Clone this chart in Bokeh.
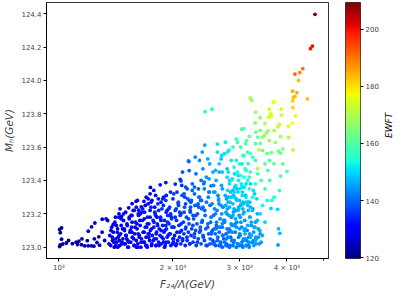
import math
import numpy as np
from bokeh.plotting import figure
from bokeh.models import (ColumnDataSource, FixedTicker, PrintfTickFormatter,
                          LinearColorMapper)
from bokeh.transform import transform
from bokeh.layouts import row
from bokeh.core.properties import value
from bokeh.embed import file_html
from bokeh.resources import INLINE

# ---------------- data ----------------
# far left, navy
f24_1 = [1004, 1016, 1008, 1016, 1008, 1004, 1024, 1046, 1060, 1085,
         1110, 1129, 1120, 1147, 1150, 1170, 1188, 1195, 1218, 1237,
         1240, 1195, 1219, 1244, 1260, 1274, 1280, 1300, 1301, 1320]
mh_1 = [123.106, 123.116, 123.087, 123.048, 123.013, 123.004, 123.019, 123.025, 123.040, 123.021,
        123.030, 123.036, 123.016, 123.015, 123.050, 123.008, 123.039, 123.008, 123.008, 123.006,
        123.050, 123.096, 123.122, 123.145, 123.028, 123.062, 123.012, 123.090, 123.168, 123.040]
ewft_1 = [122, 122, 121, 122, 121, 121, 122, 122, 122, 123,
          123, 123, 123, 123, 123, 123, 124, 124, 124, 124,
          124, 124, 124, 125, 125, 125, 125, 125, 125, 125]

# upper envelope, x 1300-2100
f24_2 = [1332, 1345, 1390, 1410, 1462, 1440, 1500, 1528, 1560, 1598,
         1611, 1624, 1650, 1677, 1690, 1700, 1740, 1744, 1760, 1800,
         1780, 1830, 1851, 1890, 1915, 1920, 1970, 2028, 2090, 2110,
         1480, 1550, 1580, 1640, 1720]
mh_2 = [123.170, 123.160, 123.135, 123.180, 123.184, 123.200, 123.210, 123.236, 123.261, 123.275,
        123.280, 123.222, 123.242, 123.275, 123.250, 123.300, 123.320, 123.358, 123.280, 123.310,
        123.340, 123.290, 123.374, 123.300, 123.387, 123.310, 123.330, 123.378, 123.407, 123.370,
        123.160, 123.190, 123.220, 123.200, 123.260]
ewft_2 = [126, 126, 126, 127, 127, 127, 128, 128, 129, 129,
          129, 129, 130, 130, 130, 130, 131, 131, 131, 132,
          131, 132, 132, 133, 133, 133, 134, 134, 135, 135,
          127, 128, 128, 129, 130]

# dense band, x 1350-2000
f24_3 = [1355, 1362, 1370, 1378, 1385, 1392, 1400, 1405, 1412, 1420,
         1428, 1433, 1440, 1447, 1455, 1460, 1468, 1475, 1482, 1490,
         1497, 1505, 1512, 1518, 1525, 1533, 1540, 1547, 1555, 1562,
         1570, 1578, 1585, 1592, 1600, 1608, 1615, 1622, 1630, 1638,
         1645, 1652, 1660, 1668, 1675, 1683, 1690, 1698, 1705, 1713,
         1720, 1728, 1735, 1743, 1750, 1758, 1765, 1773, 1780, 1788,
         1795, 1803, 1810, 1818, 1825, 1833, 1840, 1848, 1855, 1863,
         1870, 1878, 1885, 1893, 1900, 1908, 1915, 1923, 1930, 1938,
         1945, 1953, 1960, 1968, 1975, 1983, 1990, 1998]
mh_3 = [123.02, 123.07, 123.01, 123.12, 123.04, 123.09, 123.00, 123.15, 123.05, 123.03,
        123.11, 123.06, 123.18, 123.01, 123.08, 123.13, 123.03, 123.05, 123.20, 123.10,
        123.02, 123.07, 123.14, 123.04, 123.00, 123.17, 123.09, 123.03, 123.12, 123.06,
        123.22, 123.01, 123.08, 123.15, 123.04, 123.11, 123.02, 123.19, 123.07, 123.13,
        123.00, 123.05, 123.16, 123.09, 123.03, 123.21, 123.12, 123.06, 123.01, 123.18,
        123.08, 123.14, 123.04, 123.10, 123.24, 123.02, 123.07, 123.16, 123.12, 123.05,
        123.20, 123.01, 123.09, 123.14, 123.26, 123.03, 123.11, 123.07, 123.18, 123.02,
        123.23, 123.13, 123.05, 123.09, 123.16, 123.01, 123.28, 123.11, 123.06, 123.19,
        123.03, 123.14, 123.24, 123.08, 123.01, 123.17, 123.12, 123.05]
ewft_3 = [127, 128, 127, 129, 128, 128, 127, 130, 128, 128,
          129, 128, 130, 128, 129, 130, 128, 129, 131, 130,
          129, 129, 131, 129, 129, 131, 130, 129, 131, 130,
          132, 129, 130, 132, 130, 131, 130, 132, 131, 132,
          130, 131, 132, 131, 130, 133, 132, 131, 130, 133,
          132, 133, 131, 132, 134, 131, 132, 133, 133, 132,
          134, 131, 133, 134, 135, 132, 133, 132, 134, 132,
          135, 134, 133, 133, 134, 132, 136, 134, 133, 135,
          133, 135, 136, 134, 133, 136, 135, 134]

f24_3b = [1372, 1395, 1418, 1441, 1464, 1487, 1510, 1534, 1558, 1582,
          1606, 1630, 1655, 1680, 1705, 1730, 1756, 1782, 1808, 1834,
          1861, 1888, 1915, 1942, 1970, 1998, 1430, 1520, 1615, 1710,
          1805, 1900]
mh_3b = [123.10, 123.03, 123.13, 123.07, 123.02, 123.11, 123.05, 123.18, 123.09, 123.01,
         123.14, 123.06, 123.21, 123.03, 123.12, 123.08, 123.01, 123.15, 123.05, 123.22,
         123.10, 123.03, 123.13, 123.07, 123.19, 123.02, 123.00, 123.00, 123.00, 123.00,
         123.01, 123.00]
ewft_3b = [128, 127, 129, 128, 128, 129, 129, 131, 130, 129,
           131, 130, 132, 130, 132, 131, 131, 133, 132, 134,
           133, 132, 134, 133, 135, 133, 127, 128, 129, 130,
           131, 132]

# band x 2000-2500
f24_4 = [2005, 2012, 2020, 2028, 2035, 2043, 2050, 2058, 2066, 2074,
         2082, 2090, 2098, 2106, 2114, 2122, 2130, 2138, 2146, 2155,
         2163, 2171, 2180, 2188, 2197, 2205, 2214, 2223, 2232, 2241,
         2250, 2259, 2268, 2277, 2286, 2295, 2304, 2314, 2323, 2333,
         2342, 2352, 2362, 2372, 2382, 2392, 2402, 2412, 2422, 2432,
         2442, 2452, 2463, 2473, 2484, 2494]
mh_4 = [123.03, 123.12, 123.07, 123.22, 123.01, 123.16, 123.09, 123.04, 123.27, 123.13,
        123.06, 123.19, 123.02, 123.10, 123.31, 123.05, 123.15, 123.08, 123.24, 123.01,
        123.12, 123.18, 123.04, 123.29, 123.09, 123.14, 123.02, 123.21, 123.07, 123.11,
        123.34, 123.03, 123.17, 123.06, 123.25, 123.10, 123.01, 123.14, 123.20, 123.05,
        123.30, 123.09, 123.12, 123.02, 123.23, 123.16, 123.07, 123.38, 123.04, 123.19,
        123.11, 123.27, 123.01, 123.14, 123.08, 123.33]
ewft_4 = [132, 134, 133, 136, 132, 135, 133, 133, 137, 135,
          134, 136, 134, 135, 138, 134, 136, 135, 138, 134,
          136, 137, 135, 139, 136, 137, 135, 138, 136, 137,
          140, 136, 138, 137, 139, 138, 136, 138, 139, 137,
          141, 138, 139, 137, 140, 139, 138, 142, 138, 140,
          139, 141, 138, 140, 139, 142]

f24_4b = [2207, 2100, 2335, 2520, 2204, 2198, 2428, 2472, 2374, 2300,
          2150, 2250, 2400, 2450, 2350, 2280, 2480, 2420, 2550, 2500,
          2380, 2320, 2230, 2180, 2050, 2120]
mh_4b = [123.459, 123.397, 123.349, 123.368, 123.513, 123.517, 123.612, 123.529, 123.400, 123.440,
         123.300, 123.380, 123.470, 123.420, 123.520, 123.320, 123.300, 123.350, 123.450, 123.500,
         123.280, 123.250, 123.270, 123.350, 123.330, 123.450]
ewft_4b = [139, 136, 140, 143, 140, 141, 145, 146, 141, 141,
           137, 139, 143, 144, 144, 139, 142, 142, 146, 146,
           140, 139, 138, 137, 135, 138]

# dense band x 2500-3400
f24_5 = [2505, 2515, 2526, 2537, 2548, 2559, 2570, 2581, 2592, 2604,
         2615, 2627, 2639, 2651, 2663, 2675, 2687, 2699, 2711, 2724,
         2736, 2749, 2762, 2775, 2788, 2801, 2814, 2827, 2840, 2853,
         2867, 2880, 2894, 2908, 2922, 2936, 2950, 2964, 2978, 2992,
         3006, 3021, 3035, 3050, 3065, 3080, 3095, 3110, 3125, 3140,
         3156, 3172, 3188, 3204, 3220, 3236, 3252, 3268, 3285, 3302,
         3320, 3340, 3360, 3380, 3400]
mh_5 = [123.02, 123.15, 123.08, 123.26, 123.04, 123.19, 123.11, 123.33, 123.01, 123.13,
        123.22, 123.06, 123.29, 123.09, 123.17, 123.03, 123.37, 123.12, 123.24, 123.05,
        123.15, 123.31, 123.08, 123.20, 123.01, 123.27, 123.11, 123.40, 123.06, 123.18,
        123.13, 123.34, 123.03, 123.22, 123.09, 123.29, 123.15, 123.02, 123.43, 123.19,
        123.07, 123.25, 123.12, 123.36, 123.04, 123.21, 123.16, 123.31, 123.01, 123.10,
        123.27, 123.06, 123.18, 123.38, 123.13, 123.03, 123.23, 123.09, 123.32, 123.15,
        123.05, 123.20, 123.11, 123.02, 123.08]
ewft_5 = [138, 140, 139, 142, 138, 141, 140, 144, 138, 140,
          142, 139, 144, 140, 142, 139, 146, 141, 143, 139,
          142, 146, 140, 143, 139, 145, 141, 148, 140, 143,
          142, 147, 140, 144, 142, 146, 143, 140, 149, 144,
          141, 145, 143, 148, 141, 145, 144, 147, 141, 143,
          147, 142, 145, 150, 144, 142, 146, 144, 149, 145,
          143, 147, 145, 143, 144]

f24_5b = [2530, 2560, 2590, 2620, 2650, 2680, 2710, 2740, 2770, 2800,
          2830, 2860, 2890, 2920, 2950, 2980, 3010, 3040, 3070, 3100,
          3130, 3160, 3190, 3220, 3250, 3280, 3310, 2700, 2760, 2820,
          2880, 2940, 3000, 3060, 3120, 3180, 2650, 2780, 2910, 3040]
mh_5b = [123.09, 123.03, 123.20, 123.12, 123.01, 123.25, 123.07, 123.16, 123.02, 123.30,
         123.10, 123.04, 123.21, 123.14, 123.35, 123.06, 123.18, 123.01, 123.26, 123.11,
         123.04, 123.22, 123.08, 123.15, 123.03, 123.12, 123.06, 123.00, 123.01, 123.00,
         123.01, 123.00, 123.01, 123.00, 123.01, 123.00, 123.45, 123.47, 123.44, 123.50]
ewft_5b = [140, 138, 142, 141, 138, 144, 140, 143, 139, 146,
           142, 140, 145, 143, 148, 142, 145, 141, 147, 144,
           142, 147, 144, 146, 143, 145, 144, 139, 140, 140,
           141, 141, 142, 142, 143, 143, 146, 148, 149, 151]

# cyan middle region
f24_6 = [2850, 2900, 2950, 3000, 3050, 2880, 2930, 2980, 3030, 3080,
         2820, 2780, 2700, 2650, 2600, 2560, 2620, 2680, 2734, 2790,
         2810, 2751, 2620, 2937, 2960, 3060, 3130, 3110, 3200, 3250,
         3300, 3075, 3040, 3184, 2432, 2538, 3000, 2900, 2850, 3100,
         3150, 3200, 3180, 3250, 3300, 3350, 3120, 2960, 3020, 2880,
         3160]
mh_6 = [123.30, 123.33, 123.28, 123.35, 123.31, 123.26, 123.37, 123.40, 123.26, 123.42,
        123.38, 123.42, 123.45, 123.50, 123.40, 123.33, 123.57, 123.529, 123.56, 123.571,
        123.581, 123.629, 123.618, 123.648, 123.629, 123.548, 123.639, 123.62, 123.561, 123.54,
        123.52, 123.711, 123.707, 123.664, 123.813, 123.827, 123.50, 123.48, 123.52, 123.47,
        123.40, 123.45, 123.35, 123.30, 123.38, 123.44, 123.30, 123.45, 123.60, 123.60,
        123.50]
ewft_6 = [149, 150, 149, 151, 150, 148, 151, 152, 149, 154,
          151, 150, 149, 149, 146, 145, 151, 149, 151, 152,
          152, 152, 151, 157, 157, 154, 160, 160, 159, 156,
          157, 158, 158, 162, 155, 155, 154, 153, 152, 155,
          155, 157, 153, 153, 156, 158, 151, 153, 157, 155,
          157]

# green / yellow upper right, plus right-edge stragglers
f24_7 = [3200, 3230, 3307, 3400, 3298, 3787, 3820, 4038, 3570, 3530,
         3482, 3397, 3313, 3400, 3592, 3724, 3850, 3903, 4150, 3800,
         3850, 3545, 3640, 3370, 3350, 3680, 3700, 3860, 3870, 3592,
         3612, 3580, 3640, 3625, 4150, 4215, 4038, 4130, 3500, 3450,
         3700, 3600, 3700, 3500, 3450, 3900, 4000, 3850, 3820, 3780,
         3630, 3600, 3500, 3700, 3450, 3550, 3400, 3500, 3800, 3830,
         3790, 3650, 3560, 3420, 3300, 3350]
mh_7 = [123.895, 123.881, 123.81, 123.776, 123.745, 123.722, 123.736, 123.658, 123.697, 123.685,
        123.668, 123.70, 123.69, 123.622, 123.639, 123.628, 123.662, 123.589, 123.583, 123.575,
        123.564, 123.561, 123.567, 123.584, 123.47, 123.869, 123.872, 123.827, 123.792, 123.827,
        123.792, 123.78, 123.785, 123.80, 123.837, 123.786, 123.724, 123.744, 123.74, 123.66,
        123.70, 123.52, 123.50, 123.50, 123.58, 123.50, 123.455, 123.426, 123.339, 123.227,
        123.232, 123.40, 123.35, 123.30, 123.25, 123.28, 123.20, 123.15, 123.11, 123.083,
        123.013, 123.28, 123.46, 123.40, 123.62, 123.66]
ewft_7 = [168, 168, 168, 167, 166, 172, 172, 170, 168, 167,
          166, 165, 162, 164, 166, 167, 168, 166, 170, 163,
          163, 162, 163, 172, 170, 176, 177, 175, 173, 175,
          173, 174, 174, 175, 181, 178, 176, 177, 169, 166,
          169, 161, 162, 161, 162, 160, 160, 158, 155, 150,
          150, 157, 156, 154, 153, 154, 150, 150, 148, 148,
          145, 154, 159, 158, 160, 163]

# orange / red top tail
f24_8 = [4745, 4670, 4615, 4405, 4325, 4200, 4293, 4140, 4250, 4160, 4200, 4140, 4530]
mh_8 = [124.396, 124.206, 124.19, 124.07, 124.047, 124.038, 124.0, 123.935, 123.927,
        123.898, 123.904, 123.877, 123.889]
ewft_8 = [208, 200, 199, 190, 188, 192, 183, 185, 185, 183, 184, 182, 183]

# extra density, band x 1380-2480
f24_9 = [1383, 1398, 1413, 1426, 1444, 1458, 1472, 1486, 1501, 1515,
         1530, 1544, 1559, 1574, 1589, 1603, 1619, 1635, 1648, 1664,
         1679, 1695, 1711, 1726, 1741, 1757, 1774, 1791, 1806, 1822,
         1838, 1855, 1871, 1887, 1904, 1921, 1938, 1956, 1973, 1991,
         2009, 2027, 2046, 2064, 2083, 2101, 2120, 2140, 2159, 2178,
         2198, 2218, 2238, 2258, 2279, 2299, 2320, 2341, 2362, 2384,
         2405, 2427, 2449, 2471, 1450, 1600, 1750, 1880, 2010, 2160]
mh_9 = [123.06, 123.14, 123.01, 123.09, 123.04, 123.17, 123.11, 123.02, 123.07, 123.13,
        123.03, 123.10, 123.19, 123.05, 123.12, 123.00, 123.08, 123.16, 123.03, 123.23,
        123.09, 123.01, 123.14, 123.06, 123.18, 123.11, 123.04, 123.21, 123.08, 123.13,
        123.01, 123.17, 123.06, 123.25, 123.10, 123.03, 123.15, 123.08, 123.20, 123.12,
        123.05, 123.18, 123.02, 123.26, 123.09, 123.14, 123.04, 123.21, 123.11, 123.06,
        123.17, 123.02, 123.28, 123.13, 123.08, 123.19, 123.03, 123.24, 123.10, 123.15,
        123.06, 123.22, 123.01, 123.12, 123.23, 123.24, 123.27, 123.29, 123.32, 123.36]
ewft_9 = [128, 129, 127, 128, 128, 130, 129, 128, 129, 130,
          129, 130, 131, 129, 130, 129, 130, 131, 130, 133,
          131, 130, 132, 131, 133, 132, 131, 134, 132, 133,
          132, 134, 133, 135, 133, 132, 134, 133, 135, 134,
          133, 135, 133, 137, 134, 135, 134, 137, 136, 135,
          137, 135, 139, 137, 136, 138, 136, 139, 137, 138,
          137, 139, 137, 139, 130, 132, 133, 134, 136, 138]

# extra density, band x 2500-3450
f24_10 = [2508, 2521, 2543, 2556, 2575, 2588, 2607, 2622, 2641, 2657,
          2672, 2690, 2706, 2722, 2741, 2757, 2777, 2793, 2812, 2830,
          2849, 2866, 2886, 2903, 2925, 2944, 2962, 2984, 3002, 3023,
          3042, 3066, 3085, 3108, 3128, 3150, 3174, 3196, 3219, 3242,
          3266, 3291, 3315, 3340, 3365, 3392, 3420, 3445, 2600, 2700,
          2800, 2900, 3000, 3100, 3200, 3300, 2570, 2670, 2770, 2870,
          2970, 3070, 3170, 3270]
mh_10 = [123.05, 123.18, 123.10, 123.02, 123.23, 123.08, 123.15, 123.04, 123.28, 123.12,
         123.01, 123.20, 123.07, 123.16, 123.03, 123.25, 123.11, 123.06, 123.19, 123.01,
         123.14, 123.09, 123.31, 123.04, 123.17, 123.12, 123.02, 123.23, 123.08, 123.15,
         123.03, 123.20, 123.10, 123.05, 123.27, 123.13, 123.01, 123.18, 123.07, 123.22,
         123.04, 123.12, 123.02, 123.16, 123.06, 123.10, 123.03, 123.07, 123.11, 123.14,
         123.09, 123.13, 123.11, 123.08, 123.06, 123.04, 123.03, 123.02, 123.05, 123.04,
         123.02, 123.05, 123.03, 123.01]
ewft_10 = [139, 142, 140, 139, 143, 140, 142, 140, 145, 142,
           140, 144, 141, 143, 141, 146, 143, 142, 145, 141,
           144, 143, 148, 142, 145, 144, 142, 147, 143, 145,
           143, 147, 145, 144, 149, 146, 143, 147, 145, 148,
           144, 146, 144, 147, 145, 146, 145, 146, 142, 143,
           143, 144, 145, 146, 146, 146, 140, 141, 142, 142,
           143, 144, 144, 145]

# extra density, middle band y 123.2-123.6
f24_11 = [1720, 1790, 1860, 1930, 2000, 2070, 2140, 2210, 2280, 2350,
          2420, 2490, 2560, 2630, 2700, 2770, 2840, 2910, 2980, 3050,
          3120, 3190, 3260, 3330, 1815, 1950, 2085, 2225, 2365, 2505,
          2645, 2785, 2925, 3065, 3205, 2290, 2390, 2490, 2590, 2690]
mh_11 = [123.29, 123.24, 123.27, 123.22, 123.29, 123.25, 123.32, 123.28, 123.36, 123.30,
         123.39, 123.33, 123.37, 123.31, 123.35, 123.29, 123.33, 123.36, 123.24, 123.33,
         123.38, 123.27, 123.34, 123.29, 123.18, 123.23, 123.21, 123.24, 123.28, 123.25,
         123.26, 123.23, 123.22, 123.27, 123.24, 123.54, 123.57, 123.41, 123.46, 123.55]
ewft_11 = [131, 131, 133, 133, 135, 136, 138, 138, 140, 139,
           142, 141, 143, 143, 145, 145, 148, 149, 146, 149,
           151, 148, 151, 150, 131, 134, 136, 138, 140, 141,
           143, 145, 146, 148, 148, 143, 145, 144, 147, 150]

# extra density, cyan core and blue mid band
f24_12 = [2760, 2790, 2820, 2850, 2880, 2910, 2940, 2970, 3000, 3030,
          3060, 3090, 3120, 3150, 3180, 2800, 2870, 2940, 3010, 3080,
          3150, 2830, 2900, 2970, 3040, 1560, 1620, 1680, 1740, 1800,
          1860, 1920, 1980, 2040, 2100, 2160, 2220, 2260, 2330, 2400]
mh_12 = [123.21, 123.34, 123.24, 123.40, 123.19, 123.30, 123.44, 123.22, 123.28, 123.38,
         123.23, 123.36, 123.46, 123.25, 123.42, 123.45, 123.41, 123.52, 123.43, 123.55,
         123.57, 123.27, 123.23, 123.33, 123.37, 123.15, 123.20, 123.17, 123.22, 123.19,
         123.16, 123.21, 123.18, 123.23, 123.20, 123.26, 123.22, 123.19, 123.26, 123.24]
ewft_12 = [146, 150, 147, 152, 146, 149, 153, 147, 148, 152,
           147, 151, 154, 148, 154, 151, 151, 153, 153, 156,
           157, 148, 147, 150, 152, 130, 131, 131, 132, 132,
           133, 134, 134, 135, 136, 137, 137, 137, 139, 140]

# ticks
xtick_vals = [1000, 2000, 3000, 4000]
xtick_labels = ["10³", "2 × 10³", "3 × 10³", "4 × 10³"]
xminor_vals = [5000]
ytick_vals = [123.0, 123.2, 123.4, 123.6, 123.8, 124.0, 124.2, 124.4]
cbar_ticks = [120, 140, 160, 180, 200]
ewft_low, ewft_high = 119.7, 209.3

# ---------------- assemble ----------------
groups = [(f24_1, mh_1, ewft_1), (f24_2, mh_2, ewft_2), (f24_3, mh_3, ewft_3),
          (f24_3b, mh_3b, ewft_3b), (f24_4, mh_4, ewft_4), (f24_4b, mh_4b, ewft_4b),
          (f24_5, mh_5, ewft_5), (f24_5b, mh_5b, ewft_5b), (f24_6, mh_6, ewft_6),
          (f24_7, mh_7, ewft_7), (f24_8, mh_8, ewft_8), (f24_9, mh_9, ewft_9),
          (f24_10, mh_10, ewft_10), (f24_11, mh_11, ewft_11), (f24_12, mh_12, ewft_12)]
xs, ys, cs = [], [], []
for gx, gy, gc in groups:
    n = min(len(gx), len(gy), len(gc))
    xs += gx[:n]; ys += gy[:n]; cs += gc[:n]
order = np.argsort(cs, kind="stable")
src = ColumnDataSource(dict(f24=np.array(xs)[order], mh=np.array(ys)[order],
                            ewft=np.array(cs)[order]))

# jet palette (matplotlib segment data)
def _ch(pts, t):
    return np.interp(t, [p[0] for p in pts], [p[1] for p in pts])
t = np.linspace(0, 1, 256)
r = _ch([(0, 0), (0.35, 0), (0.66, 1), (0.89, 1), (1, 0.5)], t)
g = _ch([(0, 0), (0.125, 0), (0.375, 1), (0.64, 1), (0.91, 0), (1, 0)], t)
b = _ch([(0, 0.5), (0.11, 1), (0.34, 1), (0.65, 0), (1, 0)], t)
jet = ["#%02x%02x%02x" % (int(round(a * 255)), int(round(c * 255)), int(round(d * 255)))
       for a, c, d in zip(r, g, b)]
mapper = LinearColorMapper(palette=jet, low=ewft_low, high=ewft_high)

FONT = "DejaVu Sans"
TICK_FS = "7px"
FRAME_H = 256

# ---------------- main plot ----------------
p = figure(frame_width=282, frame_height=FRAME_H, x_axis_type="log",
           x_range=(927, 5150), y_range=(122.932, 124.467),
           output_backend="svg", toolbar_location=None,
           min_border_left=38, min_border_right=1, min_border_top=2, min_border_bottom=0)
p.scatter("f24", "mh", source=src, size=3.8, marker="circle",
          fill_color=transform("ewft", mapper), line_color=None)
p.grid.visible = False
p.outline_line_color = "black"
p.outline_line_alpha = 0.8
p.background_fill_color = "white"
p.border_fill_color = "white"

p.xaxis.ticker = FixedTicker(ticks=xtick_vals, minor_ticks=xminor_vals)
p.xaxis.major_label_overrides = dict(zip(xtick_vals, xtick_labels))
p.yaxis.ticker = FixedTicker(ticks=ytick_vals)
p.yaxis.formatter = PrintfTickFormatter(format="%.1f")
for ax in (p.xaxis[0], p.yaxis[0]):
    ax.major_tick_in = 0
    ax.major_tick_out = 3
    ax.minor_tick_in = 0
    ax.minor_tick_out = 2
    ax.major_label_standoff = 2
    ax.axis_label_standoff = 3
    ax.major_label_text_font = FONT
    ax.major_label_text_font_size = TICK_FS
    ax.axis_label_text_font = FONT
    ax.axis_label_text_font_size = "10.5px"
    ax.axis_label_text_font_style = "italic"
    ax.axis_line_color = "black"
p.xaxis.axis_label = "F₂₄/Λ(GeV)"
p.yaxis.axis_label = "Mₕ(GeV)"

# ---------------- colour bar ----------------
cb = figure(frame_width=15, frame_height=FRAME_H, x_range=(0, 1),
            y_range=(ewft_low, ewft_high), output_backend="svg", toolbar_location=None,
            x_axis_location=None, y_axis_location="right",
            min_border_left=16, min_border_right=18, min_border_top=2, min_border_bottom=8)
grad = np.linspace(ewft_low, ewft_high, 256).reshape(256, 1)
cb.image(image=[grad], x=0, y=ewft_low, dw=1, dh=ewft_high - ewft_low, color_mapper=mapper)
cb.grid.visible = False
cb.outline_line_color = "black"
cb.outline_line_alpha = 0.8
cb.yaxis.ticker = FixedTicker(ticks=cbar_ticks)
cb.yaxis.axis_line_color = None
cb.yaxis.major_tick_in = 0
cb.yaxis.major_tick_out = 3
cb.yaxis.minor_tick_line_color = None
cb.yaxis.major_label_standoff = 2
cb.yaxis.major_label_text_font = FONT
cb.yaxis.major_label_text_font_size = TICK_FS

# ---------------- colour bar title ----------------
lf = figure(frame_width=14, frame_height=FRAME_H, x_range=(0, 1), y_range=(0, 1),
            output_backend="svg", toolbar_location=None,
            x_axis_location=None, y_axis_location=None,
            min_border_left=0, min_border_right=0, min_border_top=2, min_border_bottom=0)
lf.grid.visible = False
lf.outline_line_color = None
lf.text(x=[0.5], y=[0.52], text=["EWFT"], angle=math.pi / 2,
        text_align="center", text_baseline="middle",
        text_font=value(FONT), text_font_style="italic", text_font_size="9px",
        text_color="black")

layout = row(p, cb, lf)
open("out.html", "w").write(file_html(layout, INLINE))
